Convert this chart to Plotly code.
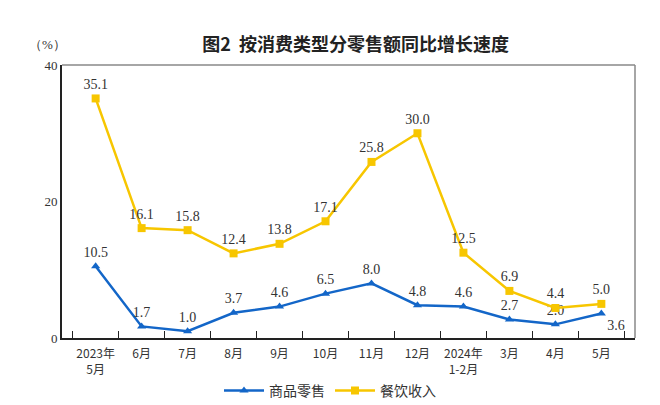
import plotly.graph_objects as go

categories = ["2023年<br>5月", "6月", "7月", "8月", "9月", "10月", "11月", "12月",
              "2024年<br>1-2月", "3月", "4月", "5月"]
retail = [10.5, 1.7, 1.0, 3.7, 4.6, 6.5, 8.0, 4.8, 4.6, 2.7, 2.0, 3.6]
catering = [35.1, 16.1, 15.8, 12.4, 13.8, 17.1, 25.8, 30.0, 12.5, 6.9, 4.4, 5.0]
names = ["商品零售", "餐饮收入"]

blue = "#1366C8"
yellow = "#F7C600"
label_font = dict(family="Liberation Serif", size=14, color="#333333")

retail_pos = ["top center"] * 11 + ["bottom right"]

fig = go.Figure()
fig.add_trace(go.Scatter(
    x=categories, y=retail, name=names[0], mode="lines+markers+text",
    line=dict(color=blue, width=2.5),
    marker=dict(symbol="triangle-up", size=8, color=blue),
    text=[f"{v:.1f}" for v in retail], textposition=retail_pos,
    textfont=label_font, cliponaxis=False,
))
fig.add_trace(go.Scatter(
    x=categories, y=catering, name=names[1], mode="lines+markers+text",
    line=dict(color=yellow, width=2.5),
    marker=dict(symbol="square", size=8, color=yellow),
    text=[f"{v:.1f}" for v in catering], textposition="top center",
    textfont=label_font, cliponaxis=False,
))

fig.update_layout(
    width=660, height=405,
    margin=dict(l=62, r=25, t=65, b=67),
    paper_bgcolor="white", plot_bgcolor="white",
    font=dict(family="Noto Sans CJK SC", color="#333333"),
    title=dict(text="<b>图2  按消费类型分零售额同比增长速度</b>",
               x=0.539, xanchor="center", y=0.89, yanchor="middle",
               font=dict(size=18, color="#222222")),
    showlegend=True,
    legend=dict(orientation="h", x=0.5, xanchor="center", xref="container",
                y=0.035, yanchor="middle", yref="container",
                font=dict(size=14, color="#333333"), itemwidth=40),
    xaxis=dict(
        type="category", showline=True, linecolor="#222222", linewidth=2,
        ticks="inside", ticklen=7, tickcolor="#222222", tickson="boundaries",
        showgrid=False, mirror=False, tickangle=0, automargin=False,
        ticklabelstandoff=4,
        tickfont=dict(family="Noto Sans CJK SC", size=12, color="#333333"),
    ),
    yaxis=dict(
        range=[0, 40], tickvals=[0, 20, 40], showline=True, linecolor="#222222",
        linewidth=2, showgrid=False, zeroline=False, ticks="", automargin=False,
        tickfont=dict(family="Liberation Serif", size=13, color="#333333"),
    ),
    shapes=[
        dict(type="line", xref="paper", yref="paper", x0=0, x1=1, y0=1, y1=1,
             line=dict(color="#888888", width=1.5)),
        dict(type="line", xref="paper", yref="paper", x0=1, x1=1, y0=0, y1=1,
             line=dict(color="#888888", width=1.5)),
    ],
    annotations=[
        dict(text="（%）", xref="paper", yref="paper", x=-0.025, y=1.075,
             xanchor="center", yanchor="middle", showarrow=False,
             font=dict(family="Liberation Serif", size=13, color="#333333")),
    ],
)

fig.write_html("out.html")
